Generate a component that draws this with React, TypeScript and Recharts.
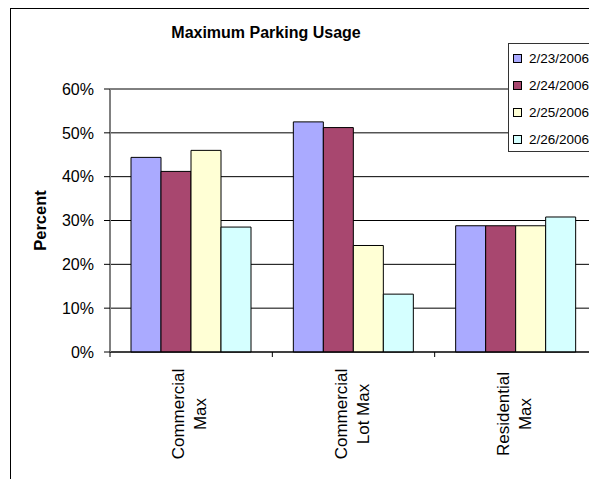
import { BarChart, Bar, XAxis, YAxis, CartesianGrid, ReferenceLine, Label } from "recharts";

const categories = ["Commercial Max", "Commercial Lot Max", "Residential Max"];
const seriesNames = ["2/23/2006", "2/24/2006", "2/25/2006", "2/26/2006"];
const values0223 = [44.4, 52.5, 28.8];
const values0224 = [41.2, 51.2, 28.8];
const values0225 = [46.0, 24.3, 28.8];
const values0226 = [28.5, 13.2, 30.8];
const yTicks = [0, 10, 20, 30, 40, 50, 60];
const colors = ["#AAAAFF", "#A8476F", "#FFFFD5", "#D5FFFF"];

const seriesValues = [values0223, values0224, values0225, values0226];
const data = categories.map((c, i) => {
  const row: any = { name: c };
  seriesNames.forEach((s, j) => (row[s] = seriesValues[j][i]));
  return row;
});

const FONT = '"Liberation Sans", Arial, sans-serif';

function CategoryTick(props: any) {
  const { x, y, payload } = props;
  const half = payload.offset || 81;
  const text = String(payload.value);
  const sp = text.indexOf(" ");
  const lines = [text.slice(0, sp), text.slice(sp + 1)];
  const cy = y + 62;
  return (
    <g>
      <line x1={x - half} x2={x - half} y1={y} y2={y + 5} stroke="#000" />
      <text
        transform={`rotate(-90, ${x}, ${cy})`}
        x={x}
        y={cy}
        textAnchor="middle"
        fontSize={17}
        fill="#000"
        fontFamily={FONT}
      >
        <tspan x={x} dy={-7}>{lines[0]}</tspan>
        <tspan x={x} dy={22}>{lines[1]}</tspan>
      </text>
    </g>
  );
}

function PercentLabel(props: any) {
  const { viewBox } = props;
  const cy = viewBox.y + viewBox.height / 2;
  return (
    <text
      transform={`rotate(-90, 38, ${cy})`}
      x={38}
      y={cy}
      textAnchor="middle"
      fontSize={16.5}
      fontWeight="bold"
      fontFamily={FONT}
      fill="#000"
    >
      Percent
    </text>
  );
}

export default function App() {
  return (
    <div
      style={{
        position: "relative",
        width: 589,
        height: 471,
        overflow: "hidden",
        fontFamily: FONT,
        background: "#fff",
      }}
    >
      <div
        style={{
          position: "absolute",
          left: 2,
          top: 0,
          width: 800,
          height: 800,
          border: "1px solid #000",
        }}
      />
      <div
        style={{
          position: "absolute",
          left: 0,
          top: 16,
          width: 516,
          textAlign: "center",
          fontSize: 16,
          fontWeight: "bold",
          lineHeight: "18px",
        }}
      >
        Maximum Parking Usage
      </div>
      <BarChart
        width={589}
        height={471}
        data={data}
        margin={{ top: 81, right: 0, left: 0, bottom: 7 }}
        barCategoryGap={21}
        barGap={0}
      >
        <CartesianGrid vertical={false} stroke="#000" />
        <ReferenceLine y={60} stroke="#808080" />
        <XAxis
          dataKey="name"
          height={120}
          tickSize={0}
          tickMargin={0}
          tickLine={false}
          axisLine={{ stroke: "#000" }}
          tick={<CategoryTick />}
          interval={0}
        />
        <YAxis
          width={102}
          domain={[0, 60]}
          ticks={yTicks}
          tickFormatter={(v: number) => `${v}%`}
          tickSize={6}
          tickMargin={10}
          tickLine={{ stroke: "#000" }}
          axisLine={{ stroke: "#808080", strokeWidth: 2 }}
          tick={{ fill: "#000", fontSize: 16, fontFamily: FONT }}
        >
          <Label content={<PercentLabel />} />
        </YAxis>
        {seriesNames.map((s, i) => (
          <Bar
            key={s}
            dataKey={s}
            fill={colors[i]}
            stroke="#000"
            strokeWidth={1}
            isAnimationActive={false}
          />
        ))}
      </BarChart>
      <div
        style={{
          position: "absolute",
          left: 500,
          top: 35,
          width: 120,
          height: 107,
          border: "1px solid #333",
          background: "#fff",
        }}
      >
        {seriesNames.map((s, i) => (
          <div
            key={s}
            style={{
              position: "absolute",
              left: 4,
              top: 5 + i * 27,
              height: 18,
              display: "flex",
              alignItems: "center",
              fontSize: 13.5,
              whiteSpace: "nowrap",
            }}
          >
            <span
              style={{
                display: "inline-block",
                width: 7,
                height: 7,
                border: "1px solid #000",
                background: colors[i],
                marginRight: 7,
              }}
            />
            {s}
          </div>
        ))}
      </div>
    </div>
  );
}
